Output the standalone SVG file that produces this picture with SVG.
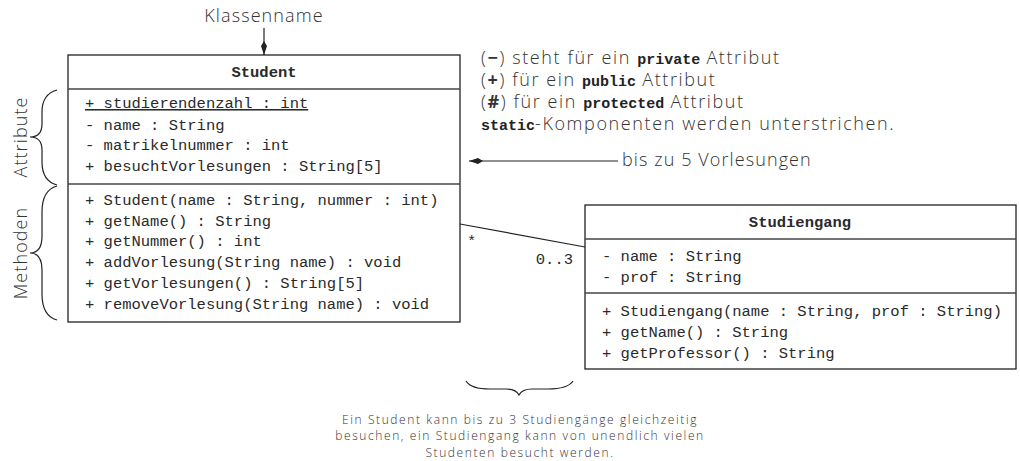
<svg xmlns="http://www.w3.org/2000/svg" width="1020" height="461" viewBox="0 0 1020 461">
  <defs>
    <style>
      .box { fill: #ffffff; stroke: #222222; stroke-width: 1.3; }
      .div { stroke: #444444; stroke-width: 1.3; }
      .mono { font-family: "Liberation Mono", "DejaVu Sans Mono", monospace; font-size: 15.5px; fill: #2a2a2a; }
      .mono-b { font-family: "Liberation Mono", "DejaVu Sans Mono", monospace; font-size: 15px; font-weight: bold; fill: #222222; letter-spacing: 0; }
      .note { font-family: "Open Sans", "Noto Sans", sans-serif; font-weight: 300; font-size: 18px; letter-spacing: 1.1px; fill: #333333; }
      .legend { letter-spacing: 1.6px; }
      .small { font-family: "Open Sans", "Noto Sans", sans-serif; font-weight: 300; font-size: 12px; letter-spacing: 1.6px; fill: #333333; }
      .brace { fill: none; stroke: #222222; stroke-width: 1.2; }
      .conn { fill: none; stroke: #222222; stroke-width: 1.2; }
    </style>
    <marker id="kite" viewBox="0 0 14 8" refX="14" refY="4" markerWidth="14" markerHeight="8" markerUnits="userSpaceOnUse" orient="auto">
      <path d="M0,4 L5,1 L14,4 L5,7 Z" fill="#222222"/>
    </marker>
  </defs>

  <!-- annotation labels -->
  <text class="note" x="264" y="22" text-anchor="middle">Klassenname</text>
  <text class="note" transform="translate(27,137) rotate(-90)" text-anchor="middle">Attribute</text>
  <text class="note" transform="translate(27,253) rotate(-90)" text-anchor="middle">Methoden</text>

  <g id="legend">
    <text class="note legend" x="481" y="64">(<tspan font-weight="bold">−</tspan>) steht für ein <tspan class="mono-b">private</tspan> Attribut</text>
    <text class="note legend" x="481" y="86">(<tspan font-weight="bold">+</tspan>) für ein <tspan class="mono-b">public</tspan> Attribut</text>
    <text class="note legend" x="481" y="108">(<tspan font-weight="bold">#</tspan>) für ein <tspan class="mono-b">protected</tspan> Attribut</text>
    <text class="note legend" x="481" y="130"><tspan class="mono-b">static</tspan>-Komponenten werden unterstrichen.</text>
  </g>

  <text class="note" x="622" y="166">bis zu 5 Vorlesungen</text>

  <!-- curly braces -->
  <g id="braces">
    <path class="brace" d="M57,90 C46,93 42,101 42,112 L42,124 C42,132 38,137 30,137 C38,137 42,142 42,150 L42,162 C42,174 46,182 57,185"/>
    <path class="brace" d="M57,186 C46,189 42,198 42,212 L42,236 C42,247 38,253 30,253 C38,253 42,259 42,270 L42,294 C42,308 46,317 57,320"/>
    <path class="brace" d="M466,381 C470,387 477,389 490,389 L506,389 C513,389 517,391 519,395 C521,391 525,389 532,389 L548,389 C561,389 569,387 573,381"/>
  </g>

  <!-- class Student -->
  <g id="student">
    <rect class="box" x="68" y="55" width="392" height="267"/>
    <line class="div" x1="68" y1="89" x2="460" y2="89"/>
    <line class="div" x1="68" y1="184" x2="460" y2="184"/>
    <text class="mono" x="264" y="77" text-anchor="middle" font-weight="bold" font-size="14.5px">Student</text>
    <text class="mono" x="85" y="108" text-decoration="underline">+ studierendenzahl : int</text>
    <text class="mono" x="85" y="130">- name : String</text>
    <text class="mono" x="85" y="150">- matrikelnummer : int</text>
    <text class="mono" x="85" y="171">+ besuchtVorlesungen : String[5]</text>
    <text class="mono" x="85" y="205">+ Student(name : String, nummer : int)</text>
    <text class="mono" x="85" y="226">+ getName() : String</text>
    <text class="mono" x="85" y="246">+ getNummer() : int</text>
    <text class="mono" x="85" y="267">+ addVorlesung(String name) : void</text>
    <text class="mono" x="85" y="288">+ getVorlesungen() : String[5]</text>
    <text class="mono" x="85" y="309">+ removeVorlesung(String name) : void</text>
  </g>

  <!-- class Studiengang -->
  <g id="studiengang">
    <rect class="box" x="585" y="205" width="431" height="164"/>
    <line class="div" x1="585" y1="239" x2="1016" y2="239"/>
    <line class="div" x1="585" y1="293" x2="1016" y2="293"/>
    <text class="mono" x="800" y="227" text-anchor="middle" font-weight="bold" font-size="14.5px">Studiengang</text>
    <text class="mono" x="602" y="261">- name : String</text>
    <text class="mono" x="602" y="282">- prof : String</text>
    <text class="mono" x="602" y="316">+ Studiengang(name : String, prof : String)</text>
    <text class="mono" x="602" y="337">+ getName() : String</text>
    <text class="mono" x="602" y="358">+ getProfessor() : String</text>
  </g>

  <!-- connectors -->
  <g id="connectors">
    <line class="conn" x1="264" y1="28" x2="264" y2="55" marker-end="url(#kite)"/>
    <line class="conn" x1="618" y1="161" x2="469" y2="161" marker-end="url(#kite)"/>
    <line class="conn" x1="460" y1="224" x2="585" y2="247"/>
    <text class="mono" x="467" y="246" font-size="14px">*</text>
    <text class="mono" x="573" y="264" text-anchor="end" font-size="14px">0..3</text>
  </g>

  <!-- association note -->
  <g id="association-note">
    <text class="small" x="520" y="424" text-anchor="middle">Ein Student kann bis zu 3 Studiengänge gleichzeitig</text>
    <text class="small" x="520" y="440.3" text-anchor="middle">besuchen, ein Studiengang kann von unendlich vielen</text>
    <text class="small" x="520" y="456.6" text-anchor="middle">Studenten besucht werden.</text>
  </g>
</svg>
